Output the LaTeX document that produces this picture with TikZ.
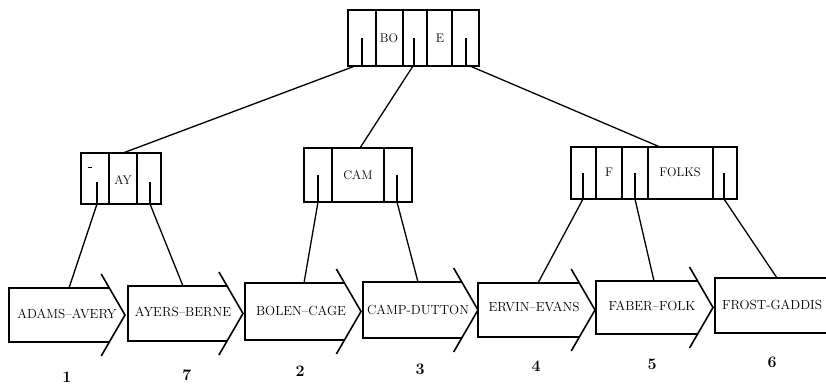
\documentclass[tikz,border=0pt]{standalone}
\usetikzlibrary{calc}
\begin{document}
\begin{tikzpicture}[x=1pt,y=-1pt,
  frame/.style={line width=1.6pt},
  ptr/.style={line width=1.5pt},
  conn/.style={line width=1.3pt},
  key/.style={inner sep=0pt,font=\fontsize{12.5}{13}\selectfont},
  leaftext/.style={inner sep=0pt,font=\fontsize{13.2}{14}\selectfont},
  num/.style={inner sep=0pt,font=\fontsize{16}{16}\selectfont\bfseries}]
\useasboundingbox (0,0) rectangle (826,385);

% ---------- root node ----------
\draw[frame] (348,10) rectangle (479,66);
\foreach \x in {376,403,427,452} \draw[frame] (\x,10) -- (\x,66);
\foreach \x in {362,414,466} \draw[ptr] (\x,38) -- (\x,66);
\node[key] (kBO) at (389,38) {BO};
\node[key] (kE) at (440,38) {E};
\coordinate (r1) at (355,66);
\coordinate (r2) at (413,66);
\coordinate (r3) at (470,66);

% ---------- AY node ----------
\draw[frame] (81,153) rectangle (161,204);
\foreach \x in {109,137} \draw[frame] (\x,153) -- (\x,204);
\foreach \x in {97,150} \draw[ptr] (\x,182) -- (\x,204);
\draw[line width=1pt] (87.5,167) -- (91.5,167);
\node[key] (kAY) at (123,180) {AY};
\coordinate (aytop) at (123,153);
\coordinate (ay1) at (97,204);
\coordinate (ay2) at (150,204);

% ---------- CAM node ----------
\draw[frame] (304,148) rectangle (412,202);
\foreach \x in {332,384} \draw[frame] (\x,148) -- (\x,202);
\foreach \x in {318,397} \draw[ptr] (\x,175) -- (\x,202);
\node[key] (kCAM) at (358,175) {CAM};
\coordinate (camtop) at (360,148);
\coordinate (cam1) at (318,202);
\coordinate (cam2) at (397,202);

% ---------- FOLKS node ----------
\draw[frame] (571,147) rectangle (737,199);
\foreach \x in {596,622,648,713} \draw[frame] (\x,147) -- (\x,199);
\foreach \x in {583,635,724} \draw[ptr] (\x,173) -- (\x,199);
\node[key] (kF) at (609,172) {F};
\node[key] (kFOLKS) at (680,172) {FOLKS};
\coordinate (ftop) at (660,147);
\coordinate (f1) at (583,199);
\coordinate (f2) at (635,199);
\coordinate (f3) at (724,199);

% ---------- leaves ----------
\foreach \n/\l/\t/\b/\tip/\txt/\tx/\ty/\cx/\cy/\num/\nx/\ny in {
  1/9/288/342/125/{ADAMS--AVERY}/67/314/69/288/1/67/377,
  2/128/286/341/243/{AYERS--BERNE}/183/312/183/286/7/187/375,
  3/245/283/340/361/{BOLEN--CAGE}/301/311/304/283/2/300/371,
  4/363/282/338/478/{CAMP-DUTTON}/418/310/418/282/3/420/369,
  5/478/283/337/595/{ERVIN--EVANS}/534/307/538/283/4/536/366,
  6/596/281/334/713/{FABER--FOLK}/652/306/654/281/5/652/364}{
  \pgfmathsetmacro\m{(\t+\b)/2}
  \pgfmathsetmacro\xi{\tip-0.58*(\b-\t)/2}
  \pgfmathsetmacro\xu{\tip-0.58*((\b-\t)/2+14)}
  \draw[frame] (\xi,\t) -- (\l,\t) -- (\l,\b) -- (\xi,\b);
  \draw[frame] (\xu,\t-14) -- (\tip,\m) -- (\xu,\b+14);
  \node[leaftext] (leaf\n) at (\tx,\ty) {\txt};
  \coordinate (leaftop\n) at (\cx,\cy);
  \node[num] (num\n) at (\nx,\ny) {\num};
}
\draw[frame] (832,278) -- (715,278) -- (715,333) -- (832,333);
\node[leaftext] (leaf7) at (772,305) {FROST-GADDIS};
\coordinate (leaftop7) at (777,278);
\node[num] (num7) at (772,362) {6};

% ---------- connectors ----------
\draw[conn] (r1) -- (aytop);
\draw[conn] (r2) -- (camtop);
\draw[conn] (r3) -- (ftop);
\draw[conn] (ay1) -- (leaftop1);
\draw[conn] (ay2) -- (leaftop2);
\draw[conn] (cam1) -- (leaftop3);
\draw[conn] (cam2) -- (leaftop4);
\draw[conn] (f1) -- (leaftop5);
\draw[conn] (f2) -- (leaftop6);
\draw[conn] (f3) -- (leaftop7);
\end{tikzpicture}
\end{document}
